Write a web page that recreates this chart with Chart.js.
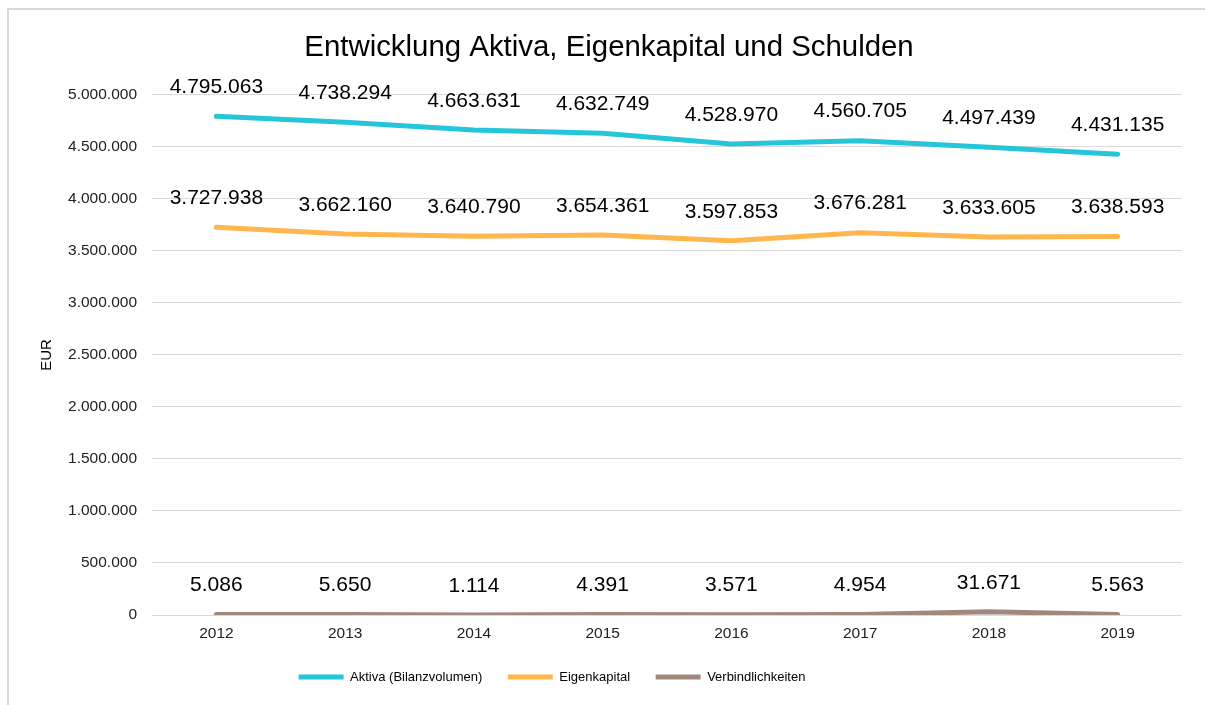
<!DOCTYPE html>
<html>
<head>
<meta charset="utf-8">
<script src="https://cdn.jsdelivr.net/npm/chart.js@4"></script>
<style>
  body { margin: 0; background: #fff; overflow: hidden; }
  #frame { position: absolute; left: 7px; top: 8px; width: 1210px; height: 710px; border: 2px solid #d9d9d9; }
  #wrap { position: absolute; left: 0; top: 0; width: 1241px; height: 705px; }
</style>
</head>
<body>
<div id="frame"></div>
<div id="wrap"><canvas id="myChart"></canvas></div>
<script>
const years = ['2012', '2013', '2014', '2015', '2016', '2017', '2018', '2019'];
const aktiva = [4795063, 4738294, 4663631, 4632749, 4528970, 4560705, 4497439, 4431135];
const eigenkapital = [3727938, 3662160, 3640790, 3654361, 3597853, 3676281, 3633605, 3638593];
const verbindlichkeiten = [5086, 5650, 1114, 4391, 3571, 4954, 31671, 5563];

function deNumber(v) {
    return Math.round(v).toString().replace(/\B(?=(\d{3})+(?!\d))/g, '.');
}

// value labels above each point
const pointLabels = {
    id: 'pointLabels',
    afterDatasetsDraw(chart) {
        const ctx = chart.ctx;
        ctx.save();
        ctx.font = '21px "Liberation Sans", Arial, sans-serif';
        ctx.fillStyle = '#000';
        ctx.textAlign = 'center';
        ctx.textBaseline = 'middle';
        chart.data.datasets.forEach((ds, i) => {
            chart.getDatasetMeta(i).data.forEach((pt, j) => {
                ctx.fillText(deNumber(ds.data[j]), pt.x, pt.y - 29);
            });
        });
        ctx.restore();
    }
};

// the legend in the original sits a bit left of centre
const legendShift = {
    id: 'legendShift',
    afterLayout(chart) {
        if (chart.legend) {
            chart.legend.left -= 57;
            chart.legend.right -= 57;
        }
    }
};

Chart.defaults.font.family = '"Liberation Sans", Arial, sans-serif';
Chart.defaults.color = '#222';

const lineStyle = { borderWidth: 5, borderCapStyle: 'round', borderJoinStyle: 'round' };

const ctx = document.getElementById('myChart').getContext('2d');
const myChart = new Chart(ctx, {
    type: 'line',
    data: {
        labels: years,
        datasets: [{
            label: 'Aktiva (Bilanzvolumen)',
            data: aktiva,
            borderColor: '#26C6DA',
            backgroundColor: '#26C6DA',
            ...lineStyle
        },
        {
            label: 'Eigenkapital',
            data: eigenkapital,
            borderColor: '#FFB74D',
            backgroundColor: '#FFB74D',
            ...lineStyle
        },
        {
            label: 'Verbindlichkeiten',
            data: verbindlichkeiten,
            borderColor: '#A1887F',
            backgroundColor: '#A1887F',
            ...lineStyle
        }]
    },
    options: {
        responsive: true,
        maintainAspectRatio: false,
        animation: false,
        layout: { padding: { top: 0, left: 0, right: 23, bottom: 11.5 } },
        elements: {
            line: { tension: 0, fill: false },
            point: { radius: 0, hoverRadius: 0 }
        },
        plugins: {
            title: {
                display: true,
                text: 'Entwicklung Aktiva, Eigenkapital und Schulden',
                color: '#000',
                font: { size: 29.4, weight: 'normal' },
                padding: { top: 30, bottom: 29.7 }
            },
            legend: {
                position: 'bottom',
                labels: {
                    usePointStyle: true,
                    pointStyle: 'line',
                    pointStyleWidth: 45,
                    padding: 25.5,
                    color: '#000',
                    font: { size: 13 }
                }
            },
            tooltip: { enabled: false }
        },
        scales: {
            x: {
                offset: true,
                grid: { display: false, drawTicks: false },
                border: { display: false },
                ticks: { font: { size: 15.5 }, padding: 9, maxRotation: 0 },
                afterFit: scale => { scale.height = 30; }
            },
            y: {
                min: 0,
                max: 5000000,
                ticks: {
                    stepSize: 500000,
                    font: { size: 15.5 },
                    padding: 15,
                    callback: v => deNumber(v)
                },
                grid: { color: '#d9d9d9', lineWidth: 1, drawTicks: false },
                border: { display: false },
                title: {
                    display: true,
                    text: 'EUR',
                    color: '#000',
                    font: { size: 15 },
                    padding: { top: 38, bottom: 0 }
                },
                afterFit: scale => { scale.width = 152; }
            },
            // empty spacer on the right so the title sits where the frame centre is
            spacer: {
                position: 'right',
                min: 0,
                max: 1,
                ticks: { display: false },
                grid: { display: false, drawTicks: false },
                border: { display: false },
                afterFit: scale => { scale.width = 36; }
            }
        }
    },
    plugins: [pointLabels, legendShift]
});
</script>
</body>
</html>
